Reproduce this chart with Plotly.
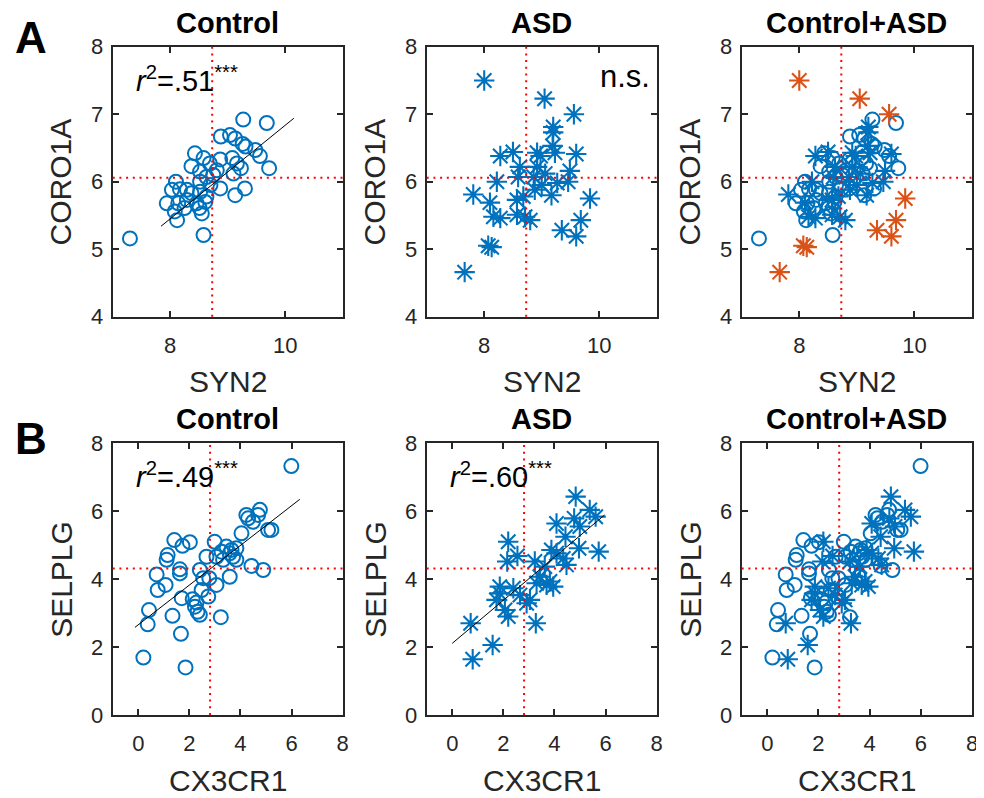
import plotly.graph_objects as go

BLUE = "#0072BD"
ORANGE = "#D95319"
AX = "#262626"
FONT = "Liberation Sans, Arial, sans-serif"

# ---------------- Row A : CORO1A vs SYN2 ----------------
ctrl_syn2 = [7.30, 9.27, 9.68, 8.88, 9.04, 9.13, 9.26, 9.31, 9.48, 9.56,
             9.72, 8.43, 8.58, 8.87, 9.08, 8.37, 8.69, 8.81, 9.16, 9.23,
             9.10, 8.52, 8.63, 8.10, 8.52, 8.87, 9.30, 9.13, 8.17, 8.29,
             8.03, 8.37, 8.52, 8.63, 7.94, 8.14, 8.29, 8.46, 8.61, 8.08,
             8.25, 8.51, 8.55, 8.12, 8.58, 8.75, 8.70]
ctrl_coro1a = [5.16, 6.92, 6.87, 6.67, 6.69, 6.64, 6.56, 6.52, 6.47, 6.38,
               6.20, 6.42, 6.35, 6.33, 6.35, 6.23, 6.27, 6.17, 6.27, 6.20,
               6.12, 6.15, 6.07, 6.00, 6.00, 5.90, 5.90, 5.80, 5.89, 5.88,
               5.88, 5.83, 5.85, 5.78, 5.68, 5.68, 5.73, 5.68, 5.70, 5.56,
               5.61, 5.61, 5.53, 5.43, 5.21, 6.10, 5.95]

asd_syn2 = [8.00, 9.05, 9.56, 9.20, 9.20, 9.19, 9.23, 8.92, 8.98, 8.28,
            8.50, 9.60, 8.62, 8.92, 9.49, 8.59, 9.06, 8.86, 8.22, 9.27,
            9.46, 9.00, 8.88, 9.17, 7.81, 8.10, 8.57, 8.68, 9.84, 8.16,
            8.28, 8.57, 8.71, 8.80, 9.68, 9.35, 9.60, 8.07, 8.13, 7.66]
asd_coro1a = [7.50, 7.23, 7.00, 6.81, 6.73, 6.53, 6.43, 6.43, 6.38, 6.38,
              6.44, 6.41, 6.22, 6.22, 6.16, 6.07, 6.12, 6.07, 6.00, 5.98,
              6.00, 5.95, 5.88, 5.80, 5.81, 5.69, 5.73, 5.78, 5.75, 5.48,
              5.46, 5.51, 5.48, 5.43, 5.43, 5.28, 5.19, 5.05, 5.03, 4.66]
asd_outlier_idx = [0, 1, 2, 28, 34, 35, 36, 37, 38, 39]

syn2_ref = 8.73
coro1a_ref = 6.06
fitA_x = [7.84, 10.15]
fitA_y = [5.34, 6.94]

# ---------------- Row B : SELPLG vs CX3CR1 ----------------
ctrl_cx3cr1 = [5.99, 0.20, 1.85, 1.67, 0.37, 0.42, 1.34, 3.23, 0.76, 1.07,
               0.72, 1.11, 1.15, 1.41, 2.02, 1.73, 1.63, 1.63, 2.41, 1.70,
               2.13, 2.22, 2.32, 2.41, 2.28, 2.48, 2.74, 3.06, 2.78, 2.54,
               3.58, 2.67, 2.99, 3.06, 3.26, 3.45, 3.65, 3.84, 3.32, 3.71,
               3.84, 3.58, 4.04, 4.43, 4.89, 4.30, 4.49, 4.76, 4.69, 5.08,
               5.21, 4.23]
ctrl_selplg = [7.33, 1.69, 1.40, 2.39, 2.67, 3.09, 2.92, 2.88, 3.68, 3.83,
               4.14, 4.57, 4.71, 5.15, 5.09, 4.98, 4.29, 4.17, 4.27, 3.44,
               3.41, 3.19, 3.04, 2.95, 3.31, 3.68, 3.49, 3.83, 4.03, 4.03,
               4.07, 4.66, 5.10, 4.66, 4.81, 4.96, 4.86, 4.91, 4.57, 4.66,
               4.57, 4.76, 5.35, 4.39, 4.27, 5.79, 5.69, 6.04, 5.89, 5.45,
               5.45, 5.89]

asd_cx3cr1 = [4.83, 5.38, 5.61, 4.77, 4.08, 4.99, 4.43, 4.96, 5.73, 2.19,
              2.55, 2.15, 3.23, 3.88, 4.08, 4.34, 3.62, 4.47, 3.43, 3.82,
              3.95, 3.69, 1.86, 2.39, 1.86, 2.65, 1.73, 3.04, 2.06, 2.19,
              2.91, 0.72, 3.27, 1.58, 0.80, 3.30]
asd_selplg = [6.43, 6.04, 5.84, 5.79, 5.64, 5.55, 5.25, 4.91, 4.81, 5.10,
              4.68, 4.52, 4.52, 4.86, 4.76, 4.61, 4.37, 4.42, 4.07, 3.93,
              3.78, 3.83, 3.78, 3.73, 3.58, 3.53, 3.39, 3.39, 3.09, 2.90,
              3.29, 2.70, 2.70, 2.06, 1.64, 3.88]

cx3cr1_ref = 2.81
selplg_ref = 4.31
fitB1_x = [-0.13, 6.32]
fitB1_y = [2.58, 6.35]
fitB2_x = [0.00, 5.96]
fitB2_y = [2.11, 5.89]

panel_titles = ["Control", "ASD", "Control+ASD"]
stats_text = {1: "<i>r</i><sup>2</sup>=.51<sup>***</sup>", 2: "n.s.",
              4: "<i>r</i><sup>2</sup>=.49<sup>***</sup>",
              5: "<i>r</i><sup>2</sup>=.60<sup>***</sup>"}

# ---------------- layout geometry (page pixels) ----------------
OFF = 8                       # default page margin of the html body
W, H = 984 - OFF, 798 - OFF
col_px = [(112.7, 342.7), (426.7, 656.7), (741.7, 972.0)]
row_px = [(46.7, 316.7), (443.3, 715.0)]


def px(x):
    return (x - OFF) / W


def py(y):
    return 1 - (y - OFF) / H


fig = go.Figure()

circle = dict(symbol="circle-open", size=14, color=BLUE, line=dict(width=2, color=BLUE))


def star(c):
    return dict(symbol="asterisk-open", size=17, color=c, line=dict(width=2.1, color=c))


def add(ax, x, y, marker=None, mode="markers", line=None):
    fig.add_trace(go.Scatter(x=x, y=y, mode=mode, marker=marker, line=line,
                             xaxis="x" + ("" if ax == 1 else str(ax)),
                             yaxis="y" + ("" if ax == 1 else str(ax)),
                             showlegend=False, hoverinfo="skip"))


asd_norm = [i for i in range(len(asd_syn2)) if i not in asd_outlier_idx]

# Row A
add(1, ctrl_syn2, ctrl_coro1a, circle)
add(1, fitA_x, fitA_y, mode="lines", line=dict(color="black", width=1))
add(2, asd_syn2, asd_coro1a, star(BLUE))
add(3, ctrl_syn2, ctrl_coro1a, circle)
add(3, [asd_syn2[i] for i in asd_norm], [asd_coro1a[i] for i in asd_norm], star(BLUE))
add(3, [asd_syn2[i] for i in asd_outlier_idx], [asd_coro1a[i] for i in asd_outlier_idx], star(ORANGE))
# Row B
add(4, ctrl_cx3cr1, ctrl_selplg, circle)
add(4, fitB1_x, fitB1_y, mode="lines", line=dict(color="black", width=1))
add(5, asd_cx3cr1, asd_selplg, star(BLUE))
add(5, fitB2_x, fitB2_y, mode="lines", line=dict(color="black", width=1))
add(6, ctrl_cx3cr1, ctrl_selplg, circle)
add(6, asd_cx3cr1, asd_selplg, star(BLUE))

layout = dict(width=W, height=H, margin=dict(l=0, r=0, t=0, b=0, pad=0, autoexpand=False),
              paper_bgcolor="white", plot_bgcolor="white", template="none",
              font=dict(family=FONT, color=AX))

axis_common = dict(showgrid=False, zeroline=False, showline=True, linecolor=AX, linewidth=2,
                   mirror="allticks", ticks="inside", ticklen=6, tickwidth=1.5, tickcolor=AX,
                   automargin=False, ticklabeloverflow="allow",
                   tickfont=dict(family=FONT, size=22, color=AX))

shapes = []
annotations = []
for r in range(2):
    for c in range(3):
        k = r * 3 + c + 1
        sx = "" if k == 1 else str(k)
        x0, x1 = col_px[c]
        y0, y1 = row_px[r]
        if r == 0:
            xr, xt, yr, yt = [7, 11], [8, 10], [4, 8], [4, 5, 6, 7, 8]
            vref, href = syn2_ref, coro1a_ref
            xlabel, ylabel = "SYN2", "CORO1A"
        else:
            xr, xt, yr, yt = [-1, 8], [0, 2, 4, 6, 8], [0, 8], [0, 2, 4, 6, 8]
            vref, href = cx3cr1_ref, selplg_ref
            xlabel, ylabel = "CX3CR1", "SELPLG"
        layout["xaxis" + sx] = dict(axis_common, domain=[px(x0), px(x1)], range=xr,
                                    tickvals=xt, anchor="y" + sx, ticklabelstandoff=8)
        layout["yaxis" + sx] = dict(axis_common, domain=[py(y1), py(y0)], range=yr,
                                    tickvals=yt, anchor="x" + sx, ticklabelstandoff=3)
        dot = dict(color="#FF0000", width=2, dash="2px,4.7px")
        shapes.append(dict(type="line", xref="x" + sx, yref="y" + sx + " domain",
                           x0=vref, x1=vref, y0=0, y1=1, line=dot, layer="above"))
        shapes.append(dict(type="line", xref="x" + sx + " domain", yref="y" + sx,
                           x0=0, x1=1, y0=href, y1=href, line=dot, layer="above"))
        cx = (x0 + x1) / 2
        # title
        annotations.append(dict(text="<b>%s</b>" % panel_titles[c], x=px(cx), y=py(y0 - 24),
                                xref="paper", yref="paper", showarrow=False,
                                font=dict(family=FONT, size=29, color="black"),
                                xanchor="center", yanchor="middle"))
        # x label
        annotations.append(dict(text=xlabel, x=px(cx), y=py(y1 + 65), xref="paper", yref="paper",
                                showarrow=False, font=dict(family=FONT, size=30, color=AX),
                                xanchor="center", yanchor="middle"))
        # y label
        annotations.append(dict(text=ylabel, x=px(x0 - 52), y=py((y0 + y1) / 2), xref="paper",
                                yref="paper", showarrow=False, textangle=-90,
                                font=dict(family=FONT, size=30, color=AX),
                                xanchor="center", yanchor="middle"))
        if k in stats_text:
            if k == 2:
                annotations.append(dict(text=stats_text[k], x=px(x1 - 5), y=py(y0 + 30),
                                        xref="paper", yref="paper", showarrow=False,
                                        font=dict(family=FONT, size=31, color="black"),
                                        xanchor="right", yanchor="middle"))
            else:
                annotations.append(dict(text=stats_text[k], x=px(x0 + 21), y=py(y0 + 32),
                                        xref="paper", yref="paper", showarrow=False,
                                        font=dict(family=FONT, size=29, color="black"),
                                        xanchor="left", yanchor="middle"))

annotations.append(dict(text="<b>A</b>", x=px(31), y=py(38), xref="paper", yref="paper",
                        showarrow=False, font=dict(family=FONT, size=44, color="black"),
                        xanchor="center", yanchor="middle"))
annotations.append(dict(text="<b>B</b>", x=px(31), y=py(438), xref="paper", yref="paper",
                        showarrow=False, font=dict(family=FONT, size=44, color="black"),
                        xanchor="center", yanchor="middle"))

layout["shapes"] = shapes
layout["annotations"] = annotations
fig.update_layout(**layout)
fig.write_html("out.html")
